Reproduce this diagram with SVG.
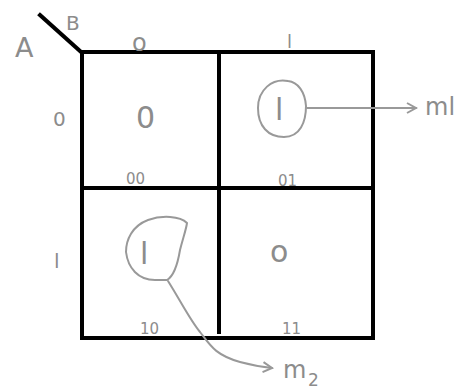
<svg xmlns="http://www.w3.org/2000/svg" width="467" height="392" viewBox="0 0 467 392">
<defs>
<style>
.g{fill:#8c8c8c;font-family:"DejaVu Sans",sans-serif;}
.ln{stroke:#000;stroke-width:4;fill:none;stroke-linecap:square}
.pen{stroke:#999;stroke-width:2;fill:none;stroke-linecap:round;stroke-linejoin:round}
</style>
<marker id="ah" markerWidth="12" markerHeight="12" refX="10" refY="6" orient="auto" markerUnits="userSpaceOnUse">
<path d="M1,1 L10,6 L1,11" stroke="#999" stroke-width="2" fill="none"/>
</marker>
</defs>
<rect width="467" height="392" fill="#fff"/>
<g id="grid">
<line class="ln" x1="40" y1="15" x2="81" y2="52"/>
<rect class="ln" x="82" y="52" width="291" height="286"/>
<line class="ln" x1="219" y1="52" x2="219" y2="332"/>
<line class="ln" x1="82" y1="188" x2="373" y2="188"/>
</g>
<g id="labels">
<text class="g" x="15" y="57" font-size="27">A</text>
<text class="g" x="66" y="30" font-size="20">B</text>
<text class="g" x="132" y="51" font-size="24">o</text>
<text class="g" x="287" y="48" font-size="18">l</text>
<text class="g" x="53" y="126" font-size="20">0</text>
<text class="g" x="54" y="268" font-size="20">l</text>
</g>
<g id="cell00">
<text class="g" x="136" y="128" font-size="30">0</text>
<text class="g" x="126" y="184" font-size="15">00</text>
</g>
<g id="cell01">
<path class="pen" d="M288,81 C272,78 258,90 258,108 C258,126 268,137 284,137 C300,137 306,122 306,106 C305,92 298,82 288,81"/>
<text class="g" x="275" y="120" font-size="30">l</text>
<text class="g" x="278" y="186" font-size="15">01</text>
</g>
<g id="cell10">
<path class="pen" d="M187,223 C180,216 162,215 148,220 C132,226 126,240 126,252 C128,268 138,280 155,280 L167,280 C174,276 178,262 180,250 C183,238 186,230 187,223"/>
<text class="g" x="140" y="264" font-size="30">l</text>
<text class="g" x="140" y="334" font-size="15">10</text>
</g>
<g id="cell11">
<text class="g" x="270" y="262" font-size="30">o</text>
<text class="g" x="282" y="334" font-size="15">11</text>
</g>
<g id="connectors">
<line class="pen" x1="307" y1="108" x2="416" y2="108" marker-end="url(#ah)"/>
<path class="pen" d="M168,281 C180,300 190,320 200,332 C210,345 215,355 240,362 C255,366 262,367 272,368" marker-end="url(#ah)"/>
</g>
<g id="m1">
<text class="g" x="425" y="115" font-size="24">ml</text>
</g>
<g id="m2">
<text class="g" x="283" y="378" font-size="24">m</text>
<text class="g" x="308" y="386" font-size="17">2</text>
</g>
</svg>
